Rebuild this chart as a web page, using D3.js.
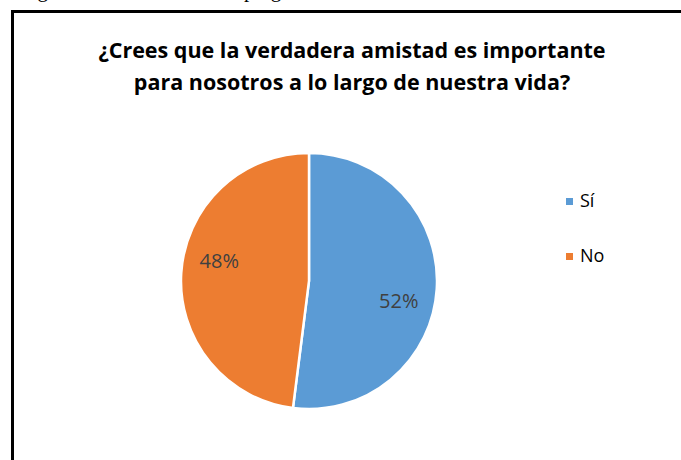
<!DOCTYPE html>
<html>
<head>
<meta charset="utf-8">
<script src="https://cdn.jsdelivr.net/npm/d3@7"></script>
<style>
  body { margin: 0; background: #fff; }
  svg { display: block; }
</style>
</head>
<body>
<svg width="681" height="460"></svg>
<script>
var categories = ["Sí", "No"];
var values = [52, 48];
var colors = ["#5B9BD5", "#ED7D31"];
var titleLines = ["¿Crees que la verdadera amistad es importante", "para nosotros a lo largo de nuestra vida?"];

var svg = d3.select("svg"),
    width = +svg.attr("width"),
    height = +svg.attr("height");

// caption of the document, cut off at the top
svg.append("text")
    .attr("x", 20).attr("y", -3)
    .attr("font-family", "Liberation Serif")
    .attr("font-size", 21)
    .text("Figura 5. Resultados de la pregunta 5");

// frame around the chart (left + top)
svg.append("path")
    .attr("d", "M12.5,470 L12.5,11.5 L690,11.5")
    .attr("fill", "none")
    .attr("stroke", "#000")
    .attr("stroke-width", 3);

svg.append("g").selectAll("text")
    .data(titleLines)
    .enter().append("text")
    .attr("x", 352)
    .attr("y", function(d, i) { return 58 + i * 32; })
    .attr("text-anchor", "middle")
    .attr("font-family", "Open Sans")
    .attr("font-weight", "bold")
    .attr("font-size", 21.5)
    .attr("fill", "#000")
    .text(function(d) { return d; });

var data = categories.map(function(c, i) { return {name: c, value: values[i], color: colors[i]}; });

var cx = 309, cy = 281, r = 128;
var pie = d3.pie().sort(null).value(function(d) { return d.value; });
var arc = d3.arc().innerRadius(0).outerRadius(r);
var labelArc = d3.arc().innerRadius(92).outerRadius(92);

var g = svg.append("g").attr("transform", "translate(" + cx + "," + cy + ")");
var arcs = pie(data);

g.selectAll("path")
    .data(arcs)
    .enter().append("path")
    .attr("d", arc)
    .attr("fill", function(d) { return d.data.color; })
    .attr("stroke", "#fff")
    .attr("stroke-width", 2.5);

// labels sit a little clockwise of the slice middle, like in the original
g.selectAll("text")
    .data(arcs)
    .enter().append("text")
    .attr("transform", function(d) {
      var p = labelArc.centroid({startAngle: d.startAngle + 0.16, endAngle: d.endAngle + 0.16});
      return "translate(" + p + ")";
    })
    .attr("text-anchor", "middle")
    .attr("dy", "0.35em")
    .attr("font-family", "Open Sans")
    .attr("font-size", 20)
    .attr("fill", "#404040")
    .text(function(d) { return d.data.value + "%"; });

var legend = svg.append("g").selectAll("g")
    .data(data)
    .enter().append("g")
    .attr("transform", function(d, i) { return "translate(566," + (201 + i * 55) + ")"; });

legend.append("rect")
    .attr("x", 0).attr("y", -3)
    .attr("width", 7).attr("height", 7)
    .attr("fill", function(d) { return d.color; });

legend.append("text")
    .attr("x", 14)
    .attr("y", 0)
    .attr("dy", "0.35em")
    .attr("font-family", "Open Sans")
    .attr("font-size", 18)
    .attr("fill", "#000")
    .text(function(d) { return d.name; });
</script>
</body>
</html>
